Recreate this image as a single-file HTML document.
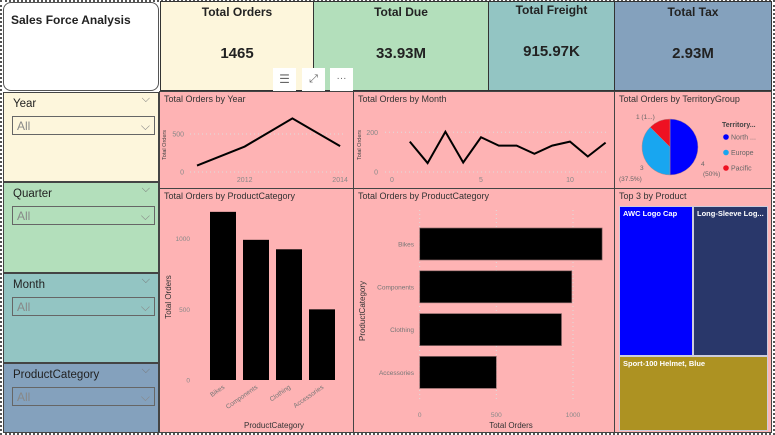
<!DOCTYPE html>
<html><head><meta charset="utf-8"><style>
body{margin:0;width:775px;height:435px;overflow:hidden;background:#fff;font-family:"Liberation Sans",sans-serif;position:relative}
.a{position:absolute;box-sizing:border-box}
.kpi{border:1.5px solid #333;text-align:center;color:#222;font-weight:bold}
.kpi .t{font-size:12px;margin-top:3px}
.kpi .v{font-size:15px;margin-top:26px}
.sl{border:1px solid #444;}
.sl .h{position:absolute;left:9px;top:5px;font-size:11.5px;color:#222}
.sl .dd{position:absolute;left:8px;top:23px;width:143px;height:19px;border:1px solid #666;font-size:12px;color:#888;padding:2px 4px;box-sizing:border-box}
.pn{background:#feb3b4;border:1.5px solid #444}
.pt{position:absolute;left:4px;top:2px;font-size:9px;color:#333}
svg text{font-family:"Liberation Sans",sans-serif}
</style></head><body>
<div class="a" style="left:0;top:0;width:775px;height:435px;border:2px dotted #555"></div>
<div class="a" style="left:3px;top:2px;width:156px;height:89px;background:#fff;border:1px solid #555;border-radius:8px"><div style="position:absolute;left:7px;top:10px;font-size:12px;font-weight:bold;color:#222">Sales Force Analysis</div></div>

<div class="a kpi" style="left:160px;top:1px;width:154px;height:90px;background:#fdf6dc"><div class="t">Total Orders</div><div class="v">1465</div></div>
<div class="a kpi" style="left:313px;top:1px;width:176px;height:90px;background:#b3dfbb"><div class="t">Total Due</div><div class="v">33.93M</div></div>
<div class="a kpi" style="left:488px;top:1px;width:127px;height:90px;background:#93c5c3"><div class="t" style="margin-top:1px">Total Freight</div><div class="v">915.97K</div></div>
<div class="a kpi" style="left:614px;top:1px;width:158px;height:90px;background:#84a1bd"><div class="t">Total Tax</div><div class="v">2.93M</div></div>

<div class="a" style="left:273px;top:68px;width:84px;height:23px">
<div class="a" style="left:0;top:0;width:23px;height:23px;background:#fff;text-align:center;font-size:12px;color:#666;line-height:23px">☰</div>
<div class="a" style="left:29px;top:0;width:23px;height:23px;background:#fff;text-align:center;font-size:11px;color:#666;line-height:23px">⤢</div>
<div class="a" style="left:57px;top:0;width:23px;height:23px;background:#fff;text-align:center;font-size:10px;color:#666;line-height:21px">···</div>
</div>

<div class="a sl" style="left:3px;top:92px;width:156px;height:90px;background:#fdf6dc"><div class="h">Year</div><div style="position:absolute;right:8px;top:0;font-size:11px;color:#777">⌵</div><div class="dd">All<span style="float:right">⌵</span></div></div>
<div class="a sl" style="left:3px;top:182px;width:156px;height:91px;background:#b3dfbb"><div class="h">Quarter</div><div style="position:absolute;right:8px;top:0;font-size:11px;color:#777">⌵</div><div class="dd">All<span style="float:right">⌵</span></div></div>
<div class="a sl" style="left:3px;top:273px;width:156px;height:90px;background:#93c5c3"><div class="h">Month</div><div style="position:absolute;right:8px;top:0;font-size:11px;color:#777">⌵</div><div class="dd">All<span style="float:right">⌵</span></div></div>
<div class="a sl" style="left:3px;top:363px;width:156px;height:70px;background:#84a1bd"><div class="h">ProductCategory</div><div style="position:absolute;right:8px;top:0;font-size:11px;color:#777">⌵</div><div class="dd">All<span style="float:right">⌵</span></div></div>

<div class="a pn" style="left:159px;top:91px;width:195px;height:98px"><div class="pt">Total Orders by Year</div></div>
<div class="a pn" style="left:353px;top:91px;width:262px;height:98px"><div class="pt">Total Orders by Month</div></div>
<div class="a pn" style="left:614px;top:91px;width:158px;height:98px"><div class="pt">Total Orders by TerritoryGroup</div></div>
<div class="a pn" style="left:159px;top:188px;width:195px;height:245px"><div class="pt">Total Orders by ProductCategory</div></div>
<div class="a pn" style="left:353px;top:188px;width:262px;height:245px"><div class="pt">Total Orders by ProductCategory</div></div>
<div class="a pn" style="left:614px;top:188px;width:158px;height:245px"><div class="pt">Top 3 by Product</div></div>

<div class="a" style="left:619px;top:206px;width:74px;height:150px;background:#0000ff;border:1px solid #ccd;color:#fff;font-size:7.5px;font-weight:bold;padding:2px 3px">AWC Logo Cap</div>
<div class="a" style="left:693px;top:206px;width:75px;height:150px;background:#29376a;border:1px solid #ccd;color:#fff;font-size:7.5px;font-weight:bold;padding:2px 3px">Long-Sleeve Log...</div>
<div class="a" style="left:619px;top:356px;width:149px;height:75px;background:#ad9222;border:1px solid #ccd;color:#fff;font-size:7.5px;font-weight:bold;padding:2px 3px">Sport-100 Helmet, Blue</div>

<svg id="charts" class="a" style="left:0;top:0" width="775" height="435"></svg>
<script>
const years=[2011,2012,2013,2014];
const yearOrders=[85,335,705,340];
const yearTicks=[0,500];
const months=[1,2,3,4,5,6,7,8,9,10,11,12];
const monthOrders=[153,45,203,48,175,133,133,92,133,153,78,148];
const monthTicks=[0,200];
const monthXTicks=[0,5,10];
const territories=["North ...","Europe","Pacific"];
const territoryOrders=[4,3,1];
const territoryColors=["#0000ff","#18a6f0","#ee1122"];
const categories=["Bikes","Components","Clothing","Accessories"];
const categoryOrders=[1190,992,925,500];
const colTicks=[0,500,1000];

const S=document.getElementById('charts');
const NS='http://www.w3.org/2000/svg';
function mk(t,a,txt){const e=document.createElementNS(NS,t);for(const k in a)e.setAttribute(k,a[k]);if(txt!=null)e.textContent=txt;S.appendChild(e);return e;}

// Year line
const yx=v=>197+(v-2011)*47.7, yy=v=>172-v*0.076;
yearTicks.forEach(t=>{const g=mk('line',{x1:190,x2:346,y1:yy(t),y2:yy(t),stroke:'#ddd','stroke-dasharray':'1,3'});

const l=mk('text',{x:184,y:yy(t)+2.5,'font-size':7,fill:'#888','text-anchor':'end'},t);
});
[2012,2014].forEach(t=>{const l=mk('text',{x:yx(t),y:182,'font-size':7,fill:'#888','text-anchor':'middle'},t);
});
let yt=mk('text',{x:166,y:145,'font-size':5.5,fill:'#444','text-anchor':'middle',transform:'rotate(-90 166 145)'},'Total Orders');

let yl=mk('polyline',{points:years.map((y,i)=>yx(y)+','+yy(yearOrders[i])).join(' '),fill:'none',stroke:'#000','stroke-width':2});


// Month line
const mx=v=>392+v*17.8, my=v=>172-v*0.1985;
monthTicks.forEach(t=>{const g=mk('line',{x1:385,x2:608,y1:my(t),y2:my(t),stroke:'#ddd','stroke-dasharray':'1,3'});

const l=mk('text',{x:378,y:my(t)+2.5,'font-size':7,fill:'#888','text-anchor':'end'},t);
});
monthXTicks.forEach(t=>{const l=mk('text',{x:mx(t),y:182,'font-size':7,fill:'#888','text-anchor':'middle'},t);
});
let mt=mk('text',{x:361,y:145,'font-size':5.5,fill:'#444','text-anchor':'middle',transform:'rotate(-90 361 145)'},'Total Orders');

let ml=mk('polyline',{points:months.map((m,i)=>mx(m)+','+my(monthOrders[i])).join(' '),fill:'none',stroke:'#000','stroke-width':2});


// Pie
const cx=670,cy=147,r=28,tot=territoryOrders.reduce((a,b)=>a+b,0);
let ang=-Math.PI/2;
territoryOrders.forEach((v,i)=>{const a2=ang+v/tot*2*Math.PI;
const x1=cx+r*Math.cos(ang),y1=cy+r*Math.sin(ang),x2=cx+r*Math.cos(a2),y2=cy+r*Math.sin(a2);
const p=mk('path',{d:`M${cx},${cy} L${x1},${y1} A${r},${r} 0 ${a2-ang>Math.PI?1:0} 1 ${x2},${y2} Z`,fill:territoryColors[i],stroke:'#b88','stroke-width':0.5});
ang=a2;});
[['4',701,166],['(50%)',703,176],['3',640,170],['(37.5%)',619,181],['1 (1...)',636,119]].forEach(d=>{const l=mk('text',{x:d[1],y:d[2],'font-size':6.5,fill:'#666'},d[0]);
});
let lt=mk('text',{x:722,y:127,'font-size':7,fill:'#444','font-weight':'bold'},'Territory...');

territories.forEach((t,i)=>{const c=mk('circle',{cx:726,cy:137+i*15.5,r:2.8,fill:territoryColors[i]});

const l=mk('text',{x:731,y:139.5+i*15.5,'font-size':7,fill:'#666'},t);
});

// Column chart
const cyS=v=>380-v*0.1413;
colTicks.forEach(t=>{const l=mk('text',{x:190,y:cyS(t)+2.5,'font-size':6.5,fill:'#888','text-anchor':'end'},t);
});
categories.forEach((c,i)=>{const xc=223+i*33;
const b=mk('rect',{x:xc-13,y:cyS(categoryOrders[i]),width:26,height:categoryOrders[i]*0.1413,fill:'#000'});

const l=mk('text',{x:xc+2,y:388,'font-size':6.5,fill:'#777','text-anchor':'end',transform:`rotate(-35 ${xc+2} 388)`},c);
});
let ct=mk('text',{x:171,y:297,'font-size':8,fill:'#333','text-anchor':'middle',transform:'rotate(-90 171 297)'},'Total Orders');

let cxt=mk('text',{x:274,y:428,'font-size':8,fill:'#333','text-anchor':'middle'},'ProductCategory');


// Horizontal bar chart
const bx=v=>419.7+v*0.1533;
colTicks.forEach(t=>{const g=mk('line',{x1:bx(t),x2:bx(t),y1:210,y2:400,stroke:'#ddd','stroke-dasharray':'1,3'});

const l=mk('text',{x:bx(t),y:417,'font-size':6.5,fill:'#888','text-anchor':'middle'},t);
});
categories.forEach((c,i)=>{const yc=244+i*42.8;
const b=mk('rect',{x:bx(0),y:yc-16,width:categoryOrders[i]*0.1533,height:32,fill:'#000',stroke:'#866','stroke-width':0.7});

const l=mk('text',{x:414,y:yc+2.5,'font-size':6.5,fill:'#777','text-anchor':'end'},c);
});
let bt=mk('text',{x:365,y:311,'font-size':8,fill:'#333','text-anchor':'middle',transform:'rotate(-90 365 311)'},'ProductCategory');

let bxt=mk('text',{x:511,y:428,'font-size':8,fill:'#333','text-anchor':'middle'},'Total Orders');

</script>
</body></html>
